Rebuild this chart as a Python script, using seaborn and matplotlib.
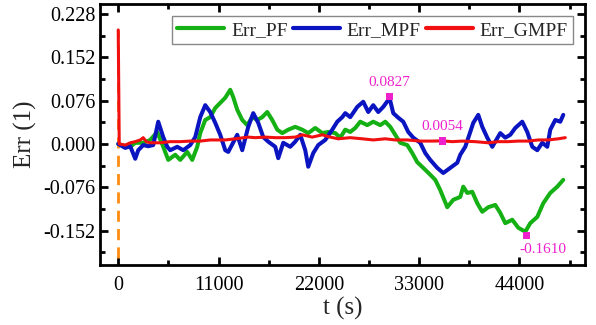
import numpy as np
import pandas as pd
import matplotlib
matplotlib.use("Agg")
import matplotlib.pyplot as plt
import seaborn as sns
from matplotlib.ticker import MultipleLocator, FixedLocator, FuncFormatter

# ---------------- data ----------------
t_mpf = [0, 219, 768, 1316, 1865, 2194, 2743, 3291, 3840, 4388, 4937, 5375, 5704, 6472, 7131, 7898,
         8447, 8995, 9544, 10092, 10641, 11189, 11738, 12067, 13054, 13603, 14261, 14810, 15358,
         15907, 16455, 17223, 17552, 18101, 18868, 19417, 19965, 20514, 20843, 21392, 21940, 22708,
         23476, 24024, 24573, 24902, 25450, 26218, 26877, 27425, 27974, 28522, 29071, 29619, 29729,
         30168, 30716, 31265, 31813, 32362, 33129, 33678, 34226, 34994, 35653, 36420, 37188, 37517,
         38066, 38614, 38944, 39492, 39931, 40479, 41028, 41357, 41905, 42454, 43002, 43551, 44319,
         44867, 45416, 45964, 46513, 47061, 47390, 47939, 48487, 48817]
v_mpf = [0.000, -0.002, -0.007, -0.004, -0.026, -0.011, -0.002, -0.004, -0.002, 0.039, 0.012, -0.005,
         -0.011, -0.005, -0.011, -0.002, 0.012, 0.047, 0.068, 0.056, 0.037, 0.016, -0.011, -0.014,
         0.016, -0.011, 0.030, 0.054, 0.037, 0.012, 0.004, -0.005, -0.025, 0.002, -0.005, 0.004,
         0.016, -0.011, -0.040, -0.016, -0.002, 0.007, 0.025, 0.039, 0.047, 0.054, 0.047, 0.065,
         0.074, 0.056, 0.068, 0.056, 0.065, 0.077, 0.0827, 0.054, 0.046, 0.039, 0.021, 0.011, 0.002,
         -0.016, -0.028, -0.042, -0.051, -0.042, -0.033, -0.019, -0.005, 0.021, 0.037, 0.051, 0.030,
         0.011, -0.005, 0.004, 0.019, 0.011, 0.016, 0.028, 0.039, 0.021, -0.005, -0.011, 0.002,
         -0.005, 0.025, 0.042, 0.039, 0.051]

t_pf = [0, 768, 1316, 1865, 2743, 3510, 4278, 4937, 5485, 6253, 6801, 7569, 8118, 8666, 8995, 9544,
        10092, 10641, 11189, 11738, 12286, 12616, 13054, 13603, 14151, 14700, 15248, 15797, 16345,
        16894, 17442, 17991, 18649, 19417, 20185, 20843, 21611, 22379, 23037, 23805, 24353, 24902,
        25450, 25999, 26547, 27315, 27974, 28741, 29290, 29838, 30387, 30935, 31703, 32252, 32800,
        33459, 34226, 34775, 35323, 36091, 36750, 37517, 37847, 38285, 38834, 39382, 39931, 40589,
        41357, 41905, 42454, 43222, 43880, 44648, 45196, 45964, 46623, 47390, 48158, 48817]
v_pf = [0.000, -0.004, -0.005, 0.002, 0.002, 0.007, 0.021, -0.005, -0.028, -0.019, -0.028, -0.014,
        -0.028, -0.005, 0.019, 0.042, 0.047, 0.063, 0.072, 0.081, 0.095, 0.082, 0.060, 0.042, 0.033,
        0.047, 0.042, 0.047, 0.056, 0.042, 0.025, 0.019, 0.025, 0.030, 0.025, 0.019, 0.028, 0.019,
        0.021, 0.019, 0.011, 0.025, 0.021, 0.028, 0.039, 0.033, 0.039, 0.033, 0.039, 0.030, 0.016,
        0.002, -0.002, -0.016, -0.032, -0.042, -0.054, -0.063, -0.081, -0.111, -0.098, -0.093,
        -0.075, -0.086, -0.084, -0.104, -0.119, -0.111, -0.107, -0.121, -0.139, -0.133, -0.147,
        -0.154, -0.139, -0.128, -0.104, -0.086, -0.075, -0.063]

t_gmpf = [0, 110, 768, 1316, 1865, 2413, 2743, 3072, 3510, 4607, 5704, 6801, 7898, 8995, 10092,
          11738, 12835, 14261, 15029, 16126, 17223, 18320, 19417, 20185, 21282, 22379, 23256, 24134,
          25450, 26767, 27974, 29290, 30387, 31703, 33129, 34446, 35543, 36640, 37737, 39163, 40589,
          41686, 42783, 43880, 44977, 46074, 47171, 48268, 49036]
v_gmpf = [0.200, 0.000, -0.002, 0.002, 0.004, 0.007, 0.011, 0.004, 0.002, 0.002, 0.004, 0.004,
          0.005, 0.005, 0.007, 0.007, 0.009, 0.012, 0.011, 0.012, 0.011, 0.011, 0.012, 0.016, 0.012,
          0.016, 0.012, 0.009, 0.011, 0.009, 0.007, 0.009, 0.007, 0.007, 0.005, 0.005, 0.0054, 0.004,
          0.005, 0.004, 0.002, 0.004, 0.004, 0.005, 0.005, 0.007, 0.007, 0.009, 0.011]

t_ref = [0, 0]
v_ref = [-0.2, 0.2]

mark_t = [29729, 35543, 44750]
mark_v = [0.0827, 0.0054, -0.1610]
mark_lbl = ["0.0827", "0.0054", "-0.1610"]

yticks = [-0.152, -0.076, 0.000, 0.076, 0.152, 0.228]
xticks = [0, 11000, 22000, 33000, 44000]

# ---------------- style ----------------
sns.set_theme(style="ticks")
plt.rcParams['font.family'] = ['Liberation Serif', 'DejaVu Serif']
plt.rcParams['axes.unicode_minus'] = False
plt.rcParams['mathtext.default'] = 'regular'

fig = plt.figure(figsize=(5.96, 3.25), dpi=100)
ax = fig.add_axes([100/596, 60/325, 485/596, 261/325])

C_PF = '#14B014'
C_MPF = '#0A14C0'
C_GMPF = '#F01010'
C_REF = '#FF8C10'
C_MARK = '#EE22CC'

sns.lineplot(x=t_ref, y=v_ref, ax=ax, color=C_REF, lw=2.0, estimator=None, sort=False,
             linestyle=(0, (4, 2.6)))
sns.lineplot(x=t_pf, y=v_pf, ax=ax, color=C_PF, lw=2.9, estimator=None, sort=False, label='Err_PF')
sns.lineplot(x=t_mpf, y=v_mpf, ax=ax, color=C_MPF, lw=2.9, estimator=None, sort=False, label='Err_MPF')
sns.lineplot(x=t_gmpf, y=v_gmpf, ax=ax, color=C_GMPF, lw=2.2, estimator=None, sort=False, label='Err_GMPF')

sns.scatterplot(x=mark_t, y=mark_v, ax=ax, color=C_MARK, marker='s', s=28, edgecolor='none',
                zorder=5, legend=False)
offsets = [(0, 10), (0, 10), (12, -10)]
for tt, vv, lb, off in zip(mark_t, mark_v, mark_lbl, offsets):
    ax.annotate(lb, (tt, vv), xytext=off, textcoords='offset points', ha='center', va='center',
                color=C_MARK, fontsize=11)

ax.set_xlim(-2000, 51200)
ax.set_ylim(-0.2124, 0.2455)
ax.xaxis.set_major_locator(FixedLocator(xticks))
ax.xaxis.set_minor_locator(MultipleLocator(5500))
ax.yaxis.set_major_locator(FixedLocator(yticks))
ax.yaxis.set_minor_locator(MultipleLocator(0.038))
ax.yaxis.set_major_formatter(FuncFormatter(lambda v, p: f"{v:.3f}"))
ax.xaxis.set_major_formatter(FuncFormatter(lambda v, p: f"{int(round(v))}"))

ax.tick_params(which='both', direction='in', top=True, right=True, labelsize=14.5, colors='black')
ax.tick_params(which='major', length=6, width=2)
ax.tick_params(which='minor', length=3.5, width=2)
ax.tick_params(axis='x', pad=8)
for s in ax.spines.values():
    s.set_linewidth(2)
    s.set_color('black')

ax.set_xlabel('t (s)', fontsize=18, labelpad=1)
ax.set_ylabel('Err (1)', fontsize=18, labelpad=4)

leg = ax.legend(loc='upper right', ncol=3, fontsize=14, frameon=True, fancybox=False,
                edgecolor='#888888', framealpha=1, handlelength=2.4, handletextpad=0.36,
                columnspacing=0.28, borderpad=0.28, borderaxespad=0.6)
leg.get_frame().set_linewidth(1.0)
for line in leg.get_lines():
    line.set_linewidth(3.0)

fig.savefig('out.png', dpi=100)
